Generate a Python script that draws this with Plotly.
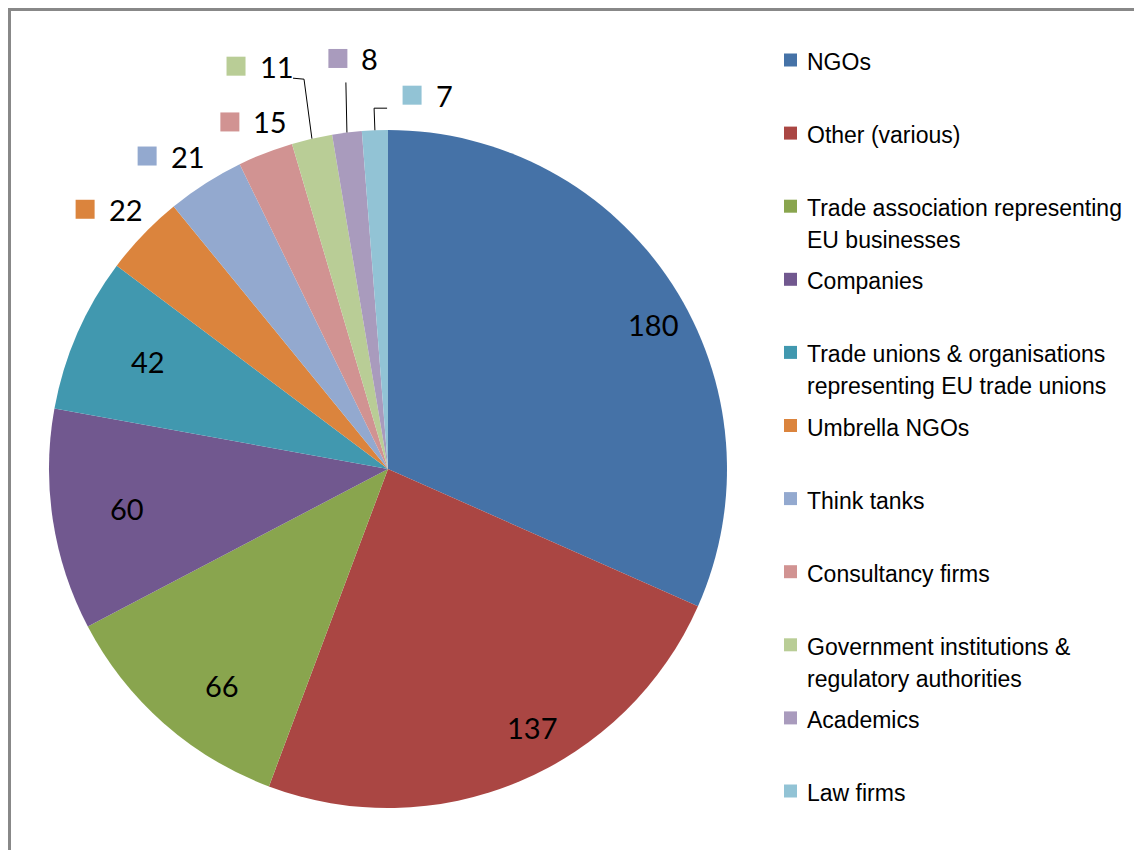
import numpy as np
import plotly.graph_objects as go

# ---------------- data ----------------
categories = [
    "NGOs",
    "Other (various)",
    "Trade association representing<br>EU businesses",
    "Companies",
    "Trade unions & organisations<br>representing EU trade unions",
    "Umbrella NGOs",
    "Think tanks",
    "Consultancy firms",
    "Government institutions &<br>regulatory authorities",
    "Academics",
    "Law firms",
]
values = [180, 137, 66, 60, 42, 22, 21, 15, 11, 8, 7]
colors = ["#4572A7", "#AA4643", "#89A54E", "#71588F", "#4198AF", "#DB843D",
          "#93A9CF", "#D19392", "#B9CD96", "#A99BBD", "#92C3D5"]

# ---------------- layout parameters (pixels) ----------------
W, H = 1134, 850
CX, CY, R = 388.0, 469.0, 339.0

# label placement style: (angle shift in deg, radius factor, outside?)
label_style = [
    (4.4, 0.891, False), (-6.3, 0.874, False), (-3.9, 0.804, False),
    (0.0, 0.778, False), (0.5, 0.774, False),
    (-3.2, 1.177, True), (-5.0, 1.165, True), (-3.3, 1.125, True),
    (-7.7, 1.27, True), (0.0, 1.22, True), (5.9, 1.105, True),
]
# leader line offsets (relative to the key square centre), None = no leader
leaders = [None] * 8 + [[(68, 13), (57, 12)], [(8, 24), (8, 24)], [(-38, 13), (-25, 13)]]


def X(px):
    return px / W


def Y(py):
    return 1 - py / H


fig = go.Figure(go.Pie(
    labels=[c.replace("<br>", " ") for c in categories],
    values=values,
    sort=False,
    direction="clockwise",
    rotation=0,
    marker=dict(colors=colors, line=dict(width=0)),
    textinfo="none",
    hovertemplate="%{label}: %{value}<extra></extra>",
    showlegend=False,
    domain=dict(x=[X(CX - R), X(CX + R)], y=[Y(CY + R), Y(CY - R)]),
))

total = float(sum(values))
cum = np.cumsum(values)
mids = (cum - np.array(values) / 2.0) / total * 360.0

shapes = []
annotations = []
NUM_FONT = dict(family="Lato, Open Sans, sans-serif", size=29, color="#000000")
SQ = 19

for i, v in enumerate(values):
    dang, rf, outside = label_style[i]
    a = np.radians(mids[i] + dang)
    px = CX + R * rf * np.sin(a)
    py = CY - R * rf * np.cos(a)
    if not outside:
        annotations.append(dict(x=X(px), y=Y(py), xref="paper", yref="paper",
                                text=str(v), showarrow=False, font=NUM_FONT,
                                xanchor="center", yanchor="middle"))
    else:
        shapes.append(dict(type="rect", xref="paper", yref="paper",
                           x0=X(px - SQ / 2), x1=X(px + SQ / 2),
                           y0=Y(py + SQ / 2), y1=Y(py - SQ / 2),
                           fillcolor=colors[i], line=dict(width=0)))
        annotations.append(dict(x=X(px + SQ / 2 + 12), y=Y(py), xref="paper", yref="paper",
                                text=str(v), showarrow=False, font=NUM_FONT,
                                xanchor="left", yanchor="middle"))
        if leaders[i] is not None:
            ea = np.radians(mids[i])
            ex = CX + R * np.sin(ea)
            ey = CY - R * np.cos(ea)
            (e1x, e1y), (e2x, e2y) = leaders[i]
            path = "M {} {} L {} {} L {} {}".format(
                X(ex), Y(ey), X(px + e1x), Y(py + e1y), X(px + e2x), Y(py + e2y))
            shapes.append(dict(type="path", xref="paper", yref="paper", path=path,
                               line=dict(color="#000000", width=1)))

# ---------------- manual legend ----------------
LEG_X_SQ, LEG_X_TXT = 790.5, 805
LEG_Y0, LEG_STEP, LINE_GAP = 62, 73.1, 32
LEG_FONT = dict(family="Liberation Sans, Arial, sans-serif", size=23, color="#000000")
for i, c in enumerate(categories):
    y0 = LEG_Y0 + LEG_STEP * i
    shapes.append(dict(type="rect", xref="paper", yref="paper",
                       x0=X(LEG_X_SQ - 6.5), x1=X(LEG_X_SQ + 6.5),
                       y0=Y(y0 - 2 + 6.5), y1=Y(y0 - 2 - 6.5),
                       fillcolor=colors[i], line=dict(width=0)))
    for j, line in enumerate(c.split("<br>")):
        annotations.append(dict(x=X(LEG_X_TXT), y=Y(y0 + j * LINE_GAP), xref="paper", yref="paper",
                                text=line, showarrow=False, font=LEG_FONT,
                                xanchor="left", yanchor="middle"))

# chart border (top and left visible, continues off the picture)
shapes.append(dict(type="rect", xref="paper", yref="paper",
                   x0=X(9.5), x1=X(W + 20), y0=Y(H + 20), y1=Y(9.5),
                   line=dict(color="#888888", width=3), fillcolor="rgba(0,0,0,0)"))

fig.update_layout(
    width=W, height=H,
    margin=dict(l=0, r=0, t=0, b=0),
    paper_bgcolor="#FFFFFF",
    plot_bgcolor="#FFFFFF",
    shapes=shapes,
    annotations=annotations,
)

fig.write_html("out.html",
               config={"displayModeBar": False},
               post_script="document.body.style.margin='0px';"
                           "document.body.style.overflow='hidden';")
